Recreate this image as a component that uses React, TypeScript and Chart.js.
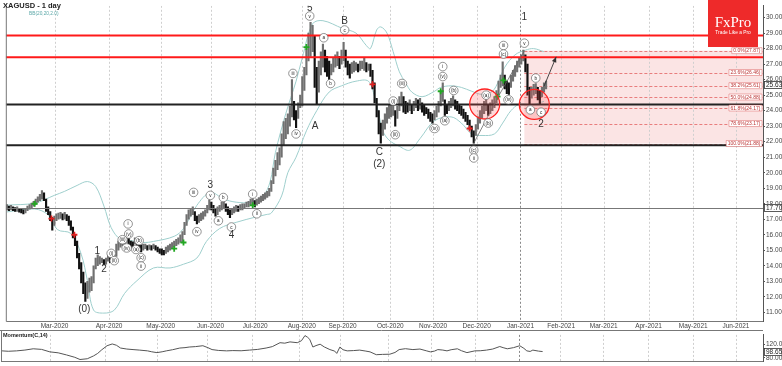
import React, { useEffect, useRef } from 'react';
import { Chart, registerables } from 'chart.js';
Chart.register(...registerables);

const FONT = '"Liberation Sans", Arial, sans-serif';

// daily bars (index = trading day from early Feb 2020)
const lows = [
  17.6, 17.55, 17.6, 17.55, 17.5, 17.5, 17.45, 17.4, 17.35, 17.4, 17.55, 17.65, 17.7, 17.85, 17.95, 18.1, 18.2, 18.3, 18.2, 17.5,
  17.3, 16.9, 16.3, 16.6, 16.9, 17.0, 17.05, 16.95, 17.0, 16.9, 16.6, 16.3, 15.8, 15.3, 14.5, 13.8, 12.9, 12.2, 11.7, 11.9,
  12.3, 12.4, 12.9, 13.8, 14.0, 14.1, 14.2, 14.05, 14.1, 14.3, 14.2, 14.15, 14.3, 14.6, 15.0, 15.2, 15.3, 15.4, 15.5, 15.3,
  15.2, 15.2, 15.4, 15.3, 15.1, 14.9, 15.0, 15.1, 15.0, 15.05, 15.0, 15.1, 15.0, 14.9, 14.8, 14.7, 14.7, 14.8, 14.9, 15.0,
  15.1, 15.2, 15.3, 15.4, 15.5, 15.5, 16.0, 16.6, 17.0, 17.2, 17.3, 16.9, 16.7, 16.8, 16.9, 17.0, 17.2, 17.4, 17.6, 17.6,
  17.4, 17.2, 17.3, 17.5, 17.6, 17.7, 17.5, 17.3, 17.1, 17.3, 17.4, 17.5, 17.5, 17.6, 17.6, 17.7, 17.8, 17.8, 17.9, 17.9,
  17.8, 17.9, 18.0, 18.1, 18.2, 18.3, 18.4, 18.5, 18.8, 19.3, 19.8, 20.2, 20.5, 21.0, 21.8, 22.2, 22.5, 23.0, 23.6, 23.4,
  22.9, 23.5, 24.2, 24.3, 25.3, 26.3, 27.2, 27.5, 27.8, 25.5, 24.4, 25.2, 26.3, 26.8, 26.5, 26.2, 26.0, 26.3, 26.5, 26.8,
  26.9, 26.7, 27.0, 27.2, 26.8, 26.3, 26.1, 26.4, 26.5, 26.6, 26.5, 26.6, 26.7, 26.6, 26.5, 26.6, 26.2, 25.4, 24.5, 23.6,
  22.5, 21.9, 22.4, 22.8, 23.2, 23.5, 23.6, 23.7, 23.0, 23.5, 24.0, 24.3, 23.9, 23.8, 23.9, 24.0, 23.8, 24.0, 24.2, 24.0,
  24.1, 23.9, 23.7, 23.8, 23.5, 23.3, 23.2, 23.4, 23.6, 23.9, 24.3, 24.6, 23.7, 23.8, 24.0, 24.2, 24.3, 24.1, 24.0, 23.8,
  23.7, 23.5, 23.3, 23.1, 22.8, 22.3, 21.9, 22.4, 22.8, 23.2, 23.5, 23.8, 24.0, 23.7, 23.8, 24.0, 24.2, 24.5, 25.0, 25.5,
  25.6, 25.4, 25.1, 25.05, 25.5, 25.9, 26.2, 26.5, 26.8, 27.0, 27.2, 26.5, 25.0, 24.4, 24.8, 25.0, 25.1, 24.7, 24.4, 24.9,
  25.2, 25.4
];
const highs = [
  17.95, 17.85, 17.9, 17.8, 17.75, 17.8, 17.7, 17.65, 17.6, 17.7, 17.85, 17.95, 18.05, 18.15, 18.3, 18.45, 18.6, 18.85, 18.7, 18.3,
  17.8, 17.5, 17.1, 17.2, 17.35, 17.4, 17.45, 17.35, 17.45, 17.3, 17.2, 16.9, 16.5, 16.0, 15.6, 14.8, 14.2, 13.6, 12.9, 13.0,
  13.2, 13.3, 14.0, 14.5, 14.7, 14.6, 14.5, 14.4, 14.5, 14.7, 14.55, 14.45, 14.8, 15.4, 15.6, 15.7, 15.75, 15.8, 16.0, 15.8,
  15.6, 15.55, 15.8, 15.7, 15.5, 15.35, 15.4, 15.4, 15.3, 15.35, 15.3, 15.4, 15.3, 15.2, 15.1, 15.1, 15.0, 15.2, 15.3, 15.4,
  15.5, 15.6, 15.7, 15.8, 16.0, 16.2, 16.8, 17.3, 17.6, 17.7, 17.8, 17.5, 17.2, 17.3, 17.4, 17.5, 17.6, 17.9, 18.25, 18.1,
  17.9, 17.7, 17.8, 17.9, 18.1, 18.35, 18.0, 17.8, 17.6, 17.7, 17.8, 17.9, 17.85, 17.95, 18.0, 18.0, 18.1, 18.15, 18.3, 18.35,
  18.2, 18.3, 18.4, 18.5, 18.6, 18.7, 18.8, 19.0, 19.5, 20.3, 20.8, 21.3, 21.6, 22.5, 23.3, 23.5, 23.8, 24.3, 26.0, 24.6,
  24.0, 24.5, 25.0, 26.2, 26.8, 28.0, 29.0, 29.7, 29.5, 28.8, 26.8, 27.2, 27.8, 28.3, 27.9, 27.5, 27.2, 27.0, 27.4, 27.6,
  27.8, 27.5, 27.9, 28.4, 27.9, 27.2, 27.0, 27.1, 27.2, 27.1, 27.0, 27.2, 27.2, 27.4, 27.1, 27.0, 27.0, 26.6, 25.8, 24.8,
  24.0, 23.2, 23.4, 23.8, 24.2, 24.4, 24.6, 24.5, 24.0, 24.3, 24.9, 25.2, 24.9, 24.6, 24.5, 24.7, 24.4, 24.6, 24.8, 24.7,
  24.8, 24.5, 24.4, 24.2, 24.1, 23.9, 23.8, 24.0, 24.3, 24.6, 25.2, 25.8, 24.7, 24.4, 24.6, 24.8, 24.95, 24.7, 24.6, 24.4,
  24.3, 24.1, 23.9, 23.7, 23.4, 23.0, 22.7, 23.1, 23.6, 24.0, 24.3, 24.6, 24.8, 24.4, 24.5, 24.7, 24.9, 25.3, 25.9, 26.3,
  27.15, 26.3, 25.9, 25.8, 26.3, 26.6, 26.9, 27.2, 27.4, 27.6, 27.9, 27.6, 27.0, 25.5, 25.5, 25.7, 25.75, 25.5, 25.3, 25.5,
  25.8, 25.9
];

// Bollinger bands (index, value)
const bbUpperIdx = [0, 13.5, 23, 28, 34, 39, 43, 47, 50.5, 55, 60, 66, 71, 81, 85.5, 92, 98.5, 105, 111, 118, 124, 127.4, 130, 135, 140, 143, 148, 153, 162.5, 169, 174, 176, 179, 181, 184, 187, 190, 193, 196, 201, 207, 210, 215, 220, 225, 230, 235, 238, 241, 246, 251, 255, 260];
const bbUpperVal = [17.91, 18.04, 18.54, 18.8, 19.18, 19.43, 19.11, 17.85, 16.46, 15.7, 15.63, 15.5, 15.57, 15.9, 16.4, 17.9, 18.73, 18.3, 18.1, 18.1, 18.5, 19.4, 21.3, 23.8, 25.9, 27.4, 29.6, 29.8, 29.3, 29.0, 28.2, 28.0, 29.2, 29.4, 29.0, 27.8, 26.5, 25.8, 25.2, 24.9, 25.25, 25.5, 25.6, 25.5, 25.25, 25.05, 25.25, 25.9, 26.8, 27.6, 27.9, 28.0, 27.8];
const bbLowerIdx = [0, 13.5, 20, 24.5, 31, 36, 39, 42, 47, 52, 57, 63, 71, 79, 85.5, 92, 96.6, 103, 111, 120.7, 125.5, 128, 133, 136, 140, 145, 150, 156, 162, 169, 175, 178, 180, 182, 185, 190, 195, 200, 207, 215, 220, 225, 230, 236, 240, 244, 248, 255, 260];
const bbLowerVal = [17.47, 17.66, 17.28, 16.33, 16.08, 14.75, 13.04, 11.14, 10.95, 11.14, 12.22, 13.04, 13.86, 13.86, 14.1, 14.5, 15.57, 16.4, 16.8, 17.15, 17.3, 17.4, 18.5, 20.0, 21.0, 22.7, 24.0, 25.2, 25.6, 25.9, 25.9, 24.9, 23.8, 22.7, 22.1, 21.7, 21.45, 22.2, 23.35, 23.6, 23.2, 22.5, 22.4, 22.5, 23.2, 24.0, 24.4, 24.4, 24.6];

// signal markers
const buyIdx = [13.5, 81, 85.5, 119, 145, 210, 237.5, 240.4];
const buyVal = [18.0, 15.1, 15.5, 17.9, 28.1, 25.25, 24.9, 25.95];
const sellIdx = [21.6, 32.7, 177, 224];
const sellVal = [17.04, 16.0, 25.7, 22.85];

// momentum(C,14)
const momIdx = [0, 3, 7, 11, 15, 19, 23, 27, 31, 35, 37.5, 41, 44, 46, 48, 50.5, 53, 55, 57, 60, 63, 66, 70, 72, 74.5, 77, 79, 82, 85.5, 88, 90, 93, 96.6, 99, 101, 104, 108, 111, 115, 119, 123, 127, 130, 133.7, 136, 138.5, 142, 144, 145.7, 147, 148, 149.5, 151, 153, 155, 157.7, 160, 161, 162.5, 164, 166, 169, 172, 175, 177, 180, 183, 186.5, 189, 191, 194, 197.6, 201, 204, 206, 208, 209.6, 212, 214, 216, 219, 221, 223.6, 227.4, 230, 233, 236, 239.4, 241, 243, 246, 249, 251, 252.4, 254, 255.3, 258, 260];
const momVal = [100.7, 99.5, 100.7, 103, 106.7, 105, 97.8, 95, 88.9, 82, 75.6, 77.8, 86, 93.3, 104, 115.6, 120.7, 117, 108.9, 106, 104.4, 103, 100.7, 98, 95.6, 98, 100.7, 104, 108.9, 110, 111.8, 113, 115.6, 110, 104.4, 102, 100.7, 101.5, 101, 102.9, 105, 108.9, 113, 124.4, 123, 126.7, 124.4, 130, 145, 140, 134, 111.8, 116, 120, 112, 104.4, 100, 93.3, 111.8, 104, 100.7, 101.5, 102.9, 100, 97.8, 89.6, 90.5, 91, 96, 104.4, 107, 104.4, 106, 101, 97.8, 100, 104.4, 103, 100.7, 104, 106.7, 101, 95.6, 100.7, 101, 102.9, 106, 113.3, 110, 106.7, 110, 115.6, 108, 100.7, 99, 102.9, 100, 98.65];

// axis
const monthTickIdx = [23.1, 49.5, 74.5, 98.6, 120.2, 142.8, 162.5, 185.6, 206.3, 227.4, 248.6, 268.3, 288.9, 310.6, 332.2, 352.9];
const monthLabels = ['Mar-2020', 'Apr-2020', 'May-2020', 'Jun-2020', 'Jul-2020', 'Aug-2020', 'Sep-2020', 'Oct-2020', 'Nov-2020', 'Dec-2020', 'Jan-2021', 'Feb-2021', 'Mar-2021', 'Apr-2021', 'May-2021', 'Jun-2021'];
const priceTicks = [11, 12, 13, 14, 15, 16, 17, 18, 19, 20, 21, 22, 23, 24, 25, 26, 27, 28, 29, 30];
const momTicks = [80, 120];

// levels
const redLevels = [28.84, 27.45];
const blackLevels = [24.39, 21.77];
const grayLevel = 17.7;
const fibPct = ['0.0%', '23.6%', '38.2%', '50.0%', '61.8%', '78.6%', '100.0%'];
const fibVals = [27.87, 26.46, 25.61, 24.88, 24.17, 23.17, 21.88];
const fibStartIdx = 250.5;
const lastPrice = 25.63;
const lastMom = 98.65;

// wave labels
const bigIdx = [37.5, 43.8, 47.1, 98.5, 108.7, 146.6, 149.2, 163.5, 180.3, 180.3, 250.5, 258.6];
const bigVal = [11.2, 14.94, 13.8, 19.2, 15.95, 30.6, 23.0, 29.75, 21.35, 20.55, 30.05, 23.1];
const bigText = ['(0)', '1', '2', '3', '4', '5', 'A', 'B', 'C', '(2)', '1', '2'];

const smIdx = [50.5, 52, 56, 58, 59, 58.7, 62.5, 64, 65, 65, 90.4, 92, 98.5, 102.4, 104.8, 108.7, 119, 121, 138.5, 140, 146.6, 153.4, 156.7, 163.5, 187, 188, 191.3, 207, 211, 211, 212, 216.3, 226, 226, 232, 233, 240.4, 240.4, 242.8, 250.5, 253.4, 256, 258.6];
const smVal = [14.8, 14.33, 15.68, 15.15, 16.05, 16.7, 15.05, 15.62, 14.52, 13.98, 18.73, 16.2, 18.54, 16.9, 18.4, 16.5, 18.62, 17.35, 26.4, 22.5, 30.1, 28.7, 25.75, 29.2, 24.62, 22.45, 25.75, 22.85, 26.84, 26.2, 23.35, 25.3, 21.45, 20.95, 25.0, 23.2, 28.2, 27.65, 24.7, 28.35, 24.05, 26.1, 23.9];
const smText = ['(i)', '(ii)', '(iii)', '(iv)', '(v)', 'i', '(a)', '(b)', '(c)', 'ii', 'iii', 'iv', 'v', 'a', 'b', 'c', 'i', 'ii', 'iii', 'iv', 'v', 'a', 'b', 'c', '(i)', '(ii)', '(iii)', '(iv)', 'i', '(v)', '(a)', '(b)', '(c)', 'ii', '(a)', '(b)', 'iii', '(c)', '(iv)', 'v', 'a', 'b', 'c'];

// highlight circles and lines
const circIdx = [231.3, 255.3];
const circVal = [24.43, 24.4];
const trendFromIdx = [226, 238];
const trendFromVal = [21.9, 24.94];
const trendToIdx = [238, 250.5];
const trendToVal = [24.94, 27.85];
const arrowFrom = [260, 25.57];
const arrowTo = [265.9, 27.47];

const X_MIN = -0.5;
const X_MAX = 366;

const overlay = {
  id: 'overlay',
  beforeDatasetsDraw(chart: any) {
    const { ctx, chartArea: a } = chart;
    const xs = chart.scales.x, ys = chart.scales.y;
    ctx.save();
    ctx.beginPath();
    ctx.rect(a.left, a.top, a.right - a.left, a.bottom - a.top);
    ctx.clip();
    const fx = xs.getPixelForValue(fibStartIdx);
    const fy0 = ys.getPixelForValue(fibVals[0]);
    const fy1 = ys.getPixelForValue(fibVals[fibVals.length - 1]);
    ctx.fillStyle = 'rgba(235,120,120,0.2)';
    ctx.fillRect(fx, fy0, a.right - fx, fy1 - fy0);
    ctx.lineWidth = 1;
    ctx.setLineDash([2, 2]);
    monthTickIdx.forEach((v, k) => {
      const px = Math.round(xs.getPixelForValue(v)) + 0.5;
      ctx.strokeStyle = monthLabels[k].startsWith('Jan') ? '#888' : '#cfcfcf';
      ctx.beginPath(); ctx.moveTo(px, a.top); ctx.lineTo(px, a.bottom); ctx.stroke();
    });
    ctx.setLineDash([3, 2]);
    ctx.strokeStyle = 'rgba(225,90,90,0.75)';
    fibVals.forEach((v) => {
      const py = Math.round(ys.getPixelForValue(v)) + 0.5;
      ctx.beginPath(); ctx.moveTo(fx, py); ctx.lineTo(a.right, py); ctx.stroke();
    });
    ctx.setLineDash([]);
    ctx.restore();
  },
  afterDatasetsDraw(chart: any) {
    const { ctx, chartArea: a } = chart;
    const xs = chart.scales.x, ys = chart.scales.y;
    const X = (v: number) => xs.getPixelForValue(v);
    const Y = (v: number) => ys.getPixelForValue(v);
    ctx.save();
    ctx.beginPath();
    ctx.rect(a.left, a.top, a.right - a.left, a.bottom - a.top);
    ctx.clip();
    // horizontal levels
    ctx.lineWidth = 2;
    ctx.strokeStyle = '#ff1a1a';
    redLevels.forEach((v) => { const py = Y(v); ctx.beginPath(); ctx.moveTo(a.left, py); ctx.lineTo(a.right, py); ctx.stroke(); });
    ctx.strokeStyle = '#222';
    blackLevels.forEach((v) => { const py = Y(v); ctx.beginPath(); ctx.moveTo(a.left, py); ctx.lineTo(a.right, py); ctx.stroke(); });
    ctx.lineWidth = 1;
    ctx.strokeStyle = '#777';
    { const py = Math.round(Y(grayLevel)) + 0.5; ctx.beginPath(); ctx.moveTo(a.left, py); ctx.lineTo(a.right, py); ctx.stroke(); }
    // trend lines
    ctx.strokeStyle = '#666';
    ctx.lineWidth = 0.8;
    trendFromIdx.forEach((v, k) => {
      ctx.beginPath(); ctx.moveTo(X(v), Y(trendFromVal[k])); ctx.lineTo(X(trendToIdx[k]), Y(trendToVal[k])); ctx.stroke();
    });
    // arrow
    {
      const x0 = X(arrowFrom[0]), y0 = Y(arrowFrom[1]), x1 = X(arrowTo[0]), y1 = Y(arrowTo[1]);
      ctx.strokeStyle = '#333'; ctx.fillStyle = '#333'; ctx.lineWidth = 0.9;
      ctx.beginPath(); ctx.moveTo(x0, y0); ctx.lineTo(x1, y1); ctx.stroke();
      const ang = Math.atan2(y1 - y0, x1 - x0);
      ctx.beginPath();
      ctx.moveTo(x1, y1);
      ctx.lineTo(x1 - 6 * Math.cos(ang - 0.4), y1 - 6 * Math.sin(ang - 0.4));
      ctx.lineTo(x1 - 6 * Math.cos(ang + 0.4), y1 - 6 * Math.sin(ang + 0.4));
      ctx.closePath(); ctx.fill();
    }
    // red circles
    circIdx.forEach((v, k) => {
      ctx.beginPath();
      ctx.arc(X(v), Y(circVal[k]), 15, 0, Math.PI * 2);
      ctx.fillStyle = 'rgba(255,80,80,0.22)';
      ctx.fill();
      ctx.strokeStyle = '#f22';
      ctx.lineWidth = 1.3;
      ctx.stroke();
    });
    // small circled wave labels
    ctx.textAlign = 'center';
    ctx.textBaseline = 'middle';
    smIdx.forEach((v, k) => {
      const px = X(v), py = Y(smVal[k]);
      ctx.font = `4.6px ${FONT}`;
      const w = ctx.measureText(smText[k]).width;
      const rx = Math.max(4.3, w / 2 + 1.6);
      ctx.beginPath();
      ctx.ellipse(px, py, rx, 4.3, 0, 0, Math.PI * 2);
      ctx.fillStyle = '#fff'; ctx.fill();
      ctx.strokeStyle = '#666'; ctx.lineWidth = 0.7; ctx.stroke();
      ctx.fillStyle = '#222';
      ctx.fillText(smText[k], px, py + 0.3);
    });
    // big wave labels
    ctx.font = `10px ${FONT}`;
    ctx.fillStyle = '#333';
    bigIdx.forEach((v, k) => { ctx.fillText(bigText[k], X(v), Y(bigVal[k])); });
    // fib labels
    ctx.font = `5px ${FONT}`;
    ctx.textAlign = 'right';
    fibVals.forEach((v, k) => {
      const t = `${fibPct[k]}(${v.toFixed(2)})`;
      const w = ctx.measureText(t).width;
      const py = Y(v);
      const xr = a.right - 1;
      ctx.fillStyle = '#fff';
      ctx.strokeStyle = 'rgba(220,90,90,0.8)';
      ctx.lineWidth = 0.6;
      ctx.beginPath();
      ctx.rect(xr - w - 3, py - 3, w + 3, 6);
      ctx.fill(); ctx.stroke();
      ctx.fillStyle = '#b33';
      ctx.fillText(t, xr - 1.5, py + 0.3);
    });
    ctx.restore();
  },
  afterDraw(chart: any) {
    const { ctx, chartArea: a } = chart;
    const ys = chart.scales.y;
    ctx.save();
    // frame
    ctx.strokeStyle = '#777';
    ctx.lineWidth = 1;
    ctx.beginPath();
    ctx.moveTo(a.left + 0.5, a.top); ctx.lineTo(a.left + 0.5, a.bottom + 0.5); ctx.lineTo(a.right, a.bottom + 0.5);
    ctx.stroke();
    // title
    ctx.textAlign = 'left'; ctx.textBaseline = 'alphabetic';
    ctx.font = `bold 7.5px ${FONT}`; ctx.fillStyle = '#222';
    ctx.fillText('XAGUSD - 1 day', 3, 8);
    ctx.font = `4.8px ${FONT}`; ctx.fillStyle = '#5aa7a7';
    ctx.fillText('BB(20,20,2.0)', 29, 14.5);
    // logo
    ctx.fillStyle = '#ee2a2a';
    ctx.fillRect(708, 0, 50, 47);
    ctx.textAlign = 'center';
    ctx.fillStyle = '#fff';
    ctx.font = `15px "Liberation Serif", "DejaVu Serif", serif`;
    ctx.fillText('FxPro', 733, 27);
    ctx.font = `4.8px ${FONT}`;
    ctx.fillText('Trade Like a Pro', 733, 34);
    // value boxes on axis
    ctx.font = `6.5px ${FONT}`;
    ctx.textAlign = 'left'; ctx.textBaseline = 'middle';
    [lastPrice, grayLevel].forEach((v) => {
      const py = Math.round(ys.getPixelForValue(v));
      ctx.fillStyle = '#fff';
      ctx.fillRect(a.right + 1, py - 4, 18, 8);
      ctx.strokeStyle = '#333'; ctx.lineWidth = 0.8;
      ctx.strokeRect(a.right + 1.5, py - 3.5, 17.5, 7);
      ctx.fillStyle = '#222';
      ctx.fillText(v.toFixed(2), a.right + 3, py + 0.3);
    });
    ctx.restore();
  },
};

const momOverlay = {
  id: 'momOverlay',
  beforeDatasetsDraw(chart: any) {
    const { ctx, chartArea: a } = chart;
    const xs = chart.scales.x;
    ctx.save();
    ctx.lineWidth = 1;
    ctx.setLineDash([2, 2]);
    monthTickIdx.forEach((v, k) => {
      const px = Math.round(xs.getPixelForValue(v)) + 0.5;
      ctx.strokeStyle = monthLabels[k].startsWith('Jan') ? '#888' : '#cfcfcf';
      ctx.beginPath(); ctx.moveTo(px, a.top); ctx.lineTo(px, a.bottom); ctx.stroke();
    });
    ctx.restore();
  },
  afterDraw(chart: any) {
    const { ctx, chartArea: a } = chart;
    const ys = chart.scales.y;
    ctx.save();
    ctx.strokeStyle = '#777';
    ctx.lineWidth = 1;
    ctx.beginPath();
    ctx.moveTo(0, 0.5); ctx.lineTo(a.right, 0.5);
    ctx.moveTo(a.left + 0.5, 0); ctx.lineTo(a.left + 0.5, a.bottom);
    ctx.stroke();
    ctx.font = `bold 5.5px ${FONT}`; ctx.fillStyle = '#222';
    ctx.textAlign = 'left'; ctx.textBaseline = 'alphabetic';
    ctx.fillText('Momentum(C,14)', 3, 7);
    ctx.font = `6.5px ${FONT}`;
    ctx.textBaseline = 'middle';
    const py = Math.round(ys.getPixelForValue(lastMom));
    ctx.fillStyle = '#fff';
    ctx.fillRect(a.right + 1, py - 4, 19, 8);
    ctx.strokeStyle = '#333'; ctx.lineWidth = 0.8;
    ctx.strokeRect(a.right + 1.5, py - 3.5, 17.5, 7);
    ctx.fillStyle = '#222';
    ctx.fillText(lastMom.toFixed(2), a.right + 3, py + 0.3);
    ctx.restore();
  },
};

function MainChart() {
  const ref = useRef<HTMLCanvasElement>(null);
  useEffect(() => {
    const barData = highs.map((h, i) => ({ x: i, y: [lows[i], h] }));
    const barColors = highs.map((h, i) => {
      if (i === 0) return '#666';
      return h + lows[i] >= highs[i - 1] + lows[i - 1] ? '#707070' : '#111';
    });
    const chart = new Chart(ref.current as HTMLCanvasElement, {
      type: 'bar',
      data: {
        datasets: [
          {
            type: 'line', data: bbUpperIdx.map((x, k) => ({ x, y: bbUpperVal[k] })),
            borderColor: '#9fcfcd', borderWidth: 1, pointRadius: 0, tension: 0.35, order: 3,
          } as any,
          {
            type: 'line', data: bbLowerIdx.map((x, k) => ({ x, y: bbLowerVal[k] })),
            borderColor: '#9fcfcd', borderWidth: 1, pointRadius: 0, tension: 0.35, order: 3,
          } as any,
          {
            type: 'bar', data: barData as any, backgroundColor: barColors, barThickness: 1.5,
            borderWidth: 0, grouped: false, order: 2,
          } as any,
          {
            type: 'scatter', data: buyIdx.map((x, k) => ({ x, y: buyVal[k] })),
            pointStyle: 'cross', pointRadius: 3, borderColor: '#22a822', borderWidth: 1.8, order: 1,
          } as any,
          {
            type: 'scatter', data: sellIdx.map((x, k) => ({ x, y: sellVal[k] })),
            pointStyle: 'cross', pointRadius: 3, borderColor: '#e02020', borderWidth: 1.8, order: 1,
          } as any,
        ],
      },
      options: {
        responsive: false,
        maintainAspectRatio: false,
        animation: false,
        devicePixelRatio: 1,
        events: [],
        layout: { padding: { left: 1, right: 0, top: 0, bottom: 0 } },
        plugins: { legend: { display: false }, tooltip: { enabled: false } },
        scales: {
          x: {
            type: 'linear', min: X_MIN, max: X_MAX, offset: false,
            grid: { display: false, drawTicks: false, tickLength: 0, offset: false },
            border: { display: false },
            afterBuildTicks: (axis: any) => { axis.ticks = monthTickIdx.map((v) => ({ value: v })); },
            afterFit: (axis: any) => { axis.height = 9; },
            ticks: {
              autoSkip: false, maxRotation: 0, padding: 1,
              font: { size: 6.5, family: FONT }, color: '#444',
              callback: (_v: any, idx: number) => monthLabels[idx],
            },
          },
          y: {
            type: 'linear', position: 'right', min: 10.44, max: 30.76,
            grid: { drawOnChartArea: false, drawTicks: true, tickLength: 2, color: '#555' },
            border: { display: true, color: '#555' },
            afterBuildTicks: (axis: any) => { axis.ticks = priceTicks.map((v) => ({ value: v })); },
            afterFit: (axis: any) => { axis.width = 19; },
            ticks: {
              padding: 1, font: { size: 6.5, family: FONT }, color: '#444',
              callback: (v: any) => Number(v).toFixed(2),
            },
          },
        },
      } as any,
      plugins: [overlay],
    });
    return () => chart.destroy();
  }, []);
  return <canvas ref={ref} width={782} height={330} style={{ position: 'absolute', left: 0, top: 0, width: 782, height: 330 }} />;
}

function MomentumChart() {
  const ref = useRef<HTMLCanvasElement>(null);
  useEffect(() => {
    const chart = new Chart(ref.current as HTMLCanvasElement, {
      type: 'line',
      data: {
        datasets: [
          {
            data: momIdx.map((x, k) => ({ x, y: momVal[k] })),
            borderColor: '#555', borderWidth: 1, pointRadius: 0, tension: 0,
          } as any,
        ],
      },
      options: {
        responsive: false,
        maintainAspectRatio: false,
        animation: false,
        devicePixelRatio: 1,
        events: [],
        layout: { padding: { left: 1, right: 0, top: 1, bottom: 0 } },
        plugins: { legend: { display: false }, tooltip: { enabled: false } },
        scales: {
          x: {
            type: 'linear', min: X_MIN, max: X_MAX, offset: false, display: true,
            grid: { display: false, drawTicks: false, tickLength: 0 }, border: { display: true, color: '#777' },
            ticks: { display: false },
            afterFit: (axis: any) => { axis.height = 0; },
          },
          y: {
            type: 'linear', position: 'right', min: 71, max: 147,
            grid: { drawOnChartArea: false, drawTicks: true, tickLength: 2, color: '#555' },
            border: { display: true, color: '#555' },
            afterBuildTicks: (axis: any) => { axis.ticks = momTicks.map((v) => ({ value: v })); },
            afterFit: (axis: any) => { axis.width = 19; },
            ticks: {
              padding: 1, font: { size: 6.5, family: FONT }, color: '#444',
              callback: (v: any) => Number(v).toFixed(2),
            },
          },
        },
      } as any,
      plugins: [momOverlay],
    });
    return () => chart.destroy();
  }, []);
  return <canvas ref={ref} width={782} height={36} style={{ position: 'absolute', left: 0, top: 330, width: 782, height: 36 }} />;
}

export default function App() {
  return (
    <div style={{ position: 'fixed', left: 0, top: 0, width: 782, height: 366, background: '#fff', overflow: 'hidden' }}>
      <MainChart />
      <MomentumChart />
    </div>
  );
}
